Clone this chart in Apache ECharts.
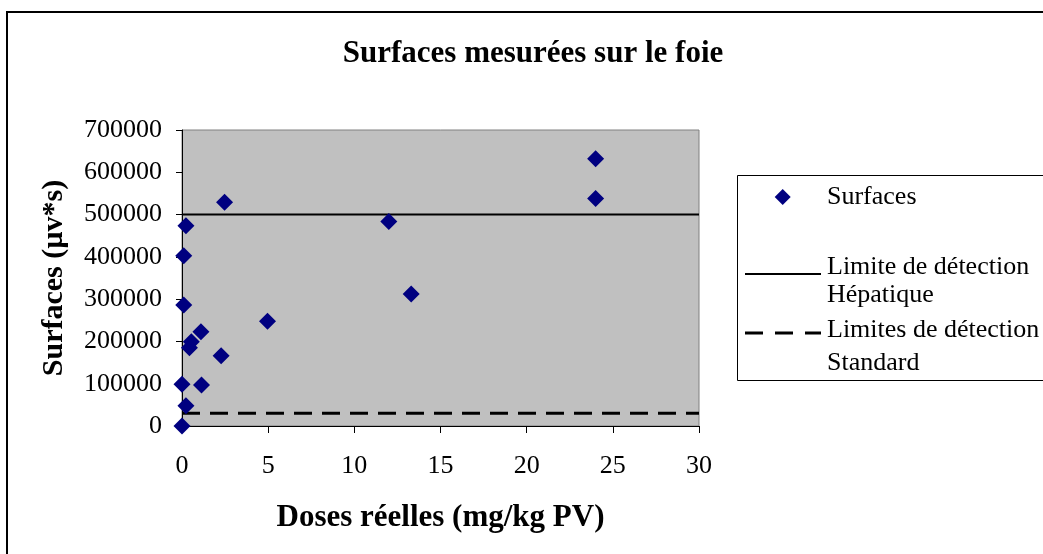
<!DOCTYPE html>
<html>
<head>
<meta charset="utf-8">
<script src="https://cdn.jsdelivr.net/npm/echarts@6/dist/echarts.min.js"></script>
<style>
  html, body { margin: 0; padding: 0; background: #fff; }
  #chart { width: 1043px; height: 554px; }
</style>
</head>
<body>
<div id="chart"></div>
<script>
// doses réelles (mg/kg PV) et surfaces (µv*s)
const doses = [0, 0, 0.23, 0.1, 0.1, 0.43, 0.54, 1.1, 1.13, 2.27, 2.47, 4.96, 12, 13.3, 24, 24, 0.23];
const surfaces = [0, 98500, 48000, 286000, 402600, 185000, 199000, 223000, 97000, 166000, 529000, 247500, 483500, 312000, 538000, 632000, 473500];

const limiteHepatique = 500000;
const limiteStandard = 30000;
const xRange = [0, 30];

const FONT = 'Liberation Serif';

function initChart() {
    const dom = document.getElementById('chart');
    const chart = echarts.init(dom);

    const points = doses.map((d, i) => [d, surfaces[i]]);

    const option = {
        animation: false,
        backgroundColor: '#fff',
        title: {
            text: 'Surfaces mesurées sur le foie',
            left: 528,
            top: 33,
            textAlign: 'center',
            textStyle: { fontFamily: FONT, fontWeight: 'bold', fontSize: 31, color: '#000' }
        },
        grid: {
            left: 182, top: 130, width: 517, height: 296,
            show: true,
            backgroundColor: '#c0c0c0',
            borderColor: '#808080',
            borderWidth: 1
        },
        xAxis: {
            type: 'value',
            min: 0, max: 30, interval: 5,
            name: 'Doses réelles (mg/kg PV)',
            nameLocation: 'middle',
            nameGap: 76,
            nameTextStyle: { fontFamily: FONT, fontWeight: 'bold', fontSize: 31, color: '#000' },
            axisLine: { show: true, onZero: false, lineStyle: { color: '#000', width: 1 } },
            axisTick: { show: true, length: 7, lineStyle: { color: '#000' } },
            axisLabel: { margin: 27, fontFamily: FONT, fontSize: 26, color: '#000' },
            splitLine: { show: false }
        },
        yAxis: {
            type: 'value',
            min: 0, max: 700000, interval: 100000,
            name: 'Surfaces (µv*s)',
            nameLocation: 'middle',
            nameGap: 113,
            nameTextStyle: { fontFamily: FONT, fontWeight: 'bold', fontSize: 30, color: '#000' },
            axisLine: { show: true, onZero: false, lineStyle: { color: '#000', width: 1 } },
            axisTick: { show: true, length: 6, lineStyle: { color: '#000' } },
            axisLabel: {
                margin: 20, fontFamily: FONT, fontSize: 26, color: '#000',
                formatter: v => String(v)
            },
            splitLine: { show: false }
        },
        series: [
            {
                name: 'Surfaces',
                type: 'scatter',
                symbol: 'diamond',
                symbolSize: 17,
                itemStyle: { color: '#000080', opacity: 1 },
                data: points,
                z: 5
            },
            {
                name: 'Limite de détection Hépatique',
                type: 'line',
                symbol: 'none',
                lineStyle: { color: '#000', width: 2 },
                data: xRange.map(x => [x, limiteHepatique]),
                z: 3
            },
            {
                name: 'Limites de détection Standard',
                type: 'line',
                symbol: 'none',
                lineStyle: { color: '#000', width: 3, type: [18, 10] },
                data: xRange.map(x => [x, limiteStandard]),
                z: 3
            }
        ],
        graphic: [
            // cadre extérieur
            {
                type: 'rect', silent: true,
                shape: { x: 7, y: 12, width: 1100, height: 600 },
                style: { fill: 'none', stroke: '#000', lineWidth: 2 }
            },
            // légende
            {
                type: 'rect', silent: true,
                shape: { x: 737.5, y: 175.5, width: 400, height: 205 },
                style: { fill: '#fff', stroke: '#000', lineWidth: 1 }
            },
            {
                type: 'polygon', silent: true,
                shape: { points: [[782.7, 189], [790.7, 197], [782.7, 205], [774.7, 197]] },
                style: { fill: '#000080' }
            },
            {
                type: 'line', silent: true,
                shape: { x1: 745, y1: 274, x2: 821, y2: 274 },
                style: { stroke: '#000', lineWidth: 2 }
            },
            {
                type: 'line', silent: true,
                shape: { x1: 745, y1: 333, x2: 821, y2: 333 },
                style: { stroke: '#000', lineWidth: 3, lineDash: [18, 12] }
            },
            legendText('Surfaces', 197.5),
            legendText('Limite de détection', 267.4),
            legendText('Hépatique', 294.7),
            legendText('Limites de détection', 329.7),
            legendText('Standard', 363)
        ]
    };

    chart.setOption(option);
}

function legendText(text, y) {
    return {
        type: 'text', silent: true,
        x: 827, y: y,
        style: {
            text: text,
            fontFamily: FONT, fontSize: 26, fill: '#000',
            verticalAlign: 'middle', align: 'left'
        }
    };
}

document.addEventListener('DOMContentLoaded', initChart);
</script>
</body>
</html>
